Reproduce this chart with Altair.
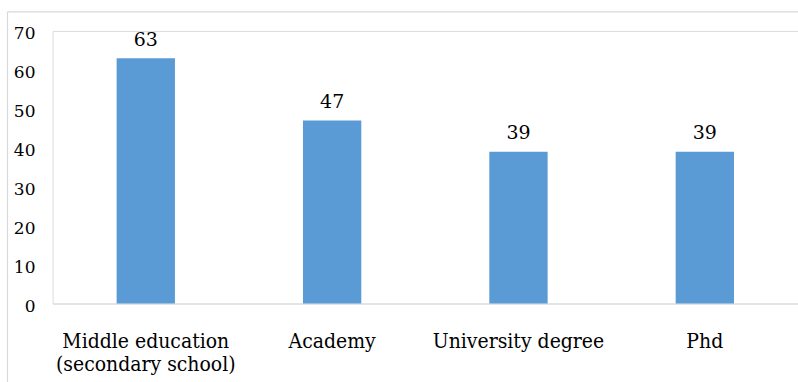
import altair as alt
import pandas as pd

# Respondents by level of education
categories = [
    "Middle education\n(secondary school)",
    "Academy",
    "University degree",
    "Phd",
]
counts = [63, 47, 39, 39]
y_ticks = [0, 10, 20, 30, 40, 50, 60, 70]

df = pd.DataFrame({"level": categories, "count": counts})

FONT_X = "DejaVu Serif Condensed"
FONT_NUM = "DejaVu Serif"
BAR = "#5B9BD5"
FRAME = "#D9D9D9"

x_enc = alt.X(
    "level:N",
    sort=categories,
    title=None,
    scale=alt.Scale(paddingInner=0.687, paddingOuter=0.3435),
    axis=alt.Axis(
        labelAngle=0,
        labelExpr="split(datum.value, '\\n')",
        labelFont=FONT_X,
        labelFontSize=21,
        labelColor="#000000",
        labelLineHeight=24,
        labelBaseline="alphabetic",
        labelPadding=43.6,
        labelLimit=400,
        ticks=False,
        domainColor=FRAME,
        domainWidth=1.2,
        grid=False,
    ),
)

y_enc = alt.Y(
    "count:Q",
    title=None,
    scale=alt.Scale(domain=[0, 70], nice=False),
    axis=alt.Axis(
        values=y_ticks,
        labelFont=FONT_NUM,
        labelFontSize=17,
        labelColor="#000000",
        labelPadding=17.7,
        labelOffset=2.5,
        ticks=False,
        domain=False,
        grid=False,
    ),
)

bars = alt.Chart(df).mark_bar(color=BAR).encode(x=x_enc, y=y_enc)

labels = alt.Chart(df).mark_text(
    font=FONT_NUM,
    fontSize=19,
    color="#000000",
    baseline="alphabetic",
    dy=-12.6,
).encode(x=x_enc, y=y_enc, text=alt.Text("count:Q"))

# Outer frame of the chart area (top and left edges)
frame_df = pd.DataFrame({"k": [0]})
frame_top = alt.Chart(frame_df).mark_rule(color=FRAME, strokeWidth=1.2).encode(
    x=alt.value(-45.2), x2=alt.value(760), y=alt.value(-19.2)
)
frame_left = alt.Chart(frame_df).mark_rule(color=FRAME, strokeWidth=1.2).encode(
    x=alt.value(-45.2), y=alt.value(-19.2), y2=alt.value(400)
)

chart = (
    alt.layer(frame_top, frame_left, bars, labels)
    .properties(
        width=746.6,
        height=273,
        autosize=alt.AutoSizeParams(type="none"),
        padding={"left": 52.7, "top": 30.7, "right": 0, "bottom": 78.3},
    )
    .configure_view(stroke=None)
    .configure(background="#FFFFFF")
)

chart.save("out.html", embed_options={"renderer": "svg", "actions": False})
